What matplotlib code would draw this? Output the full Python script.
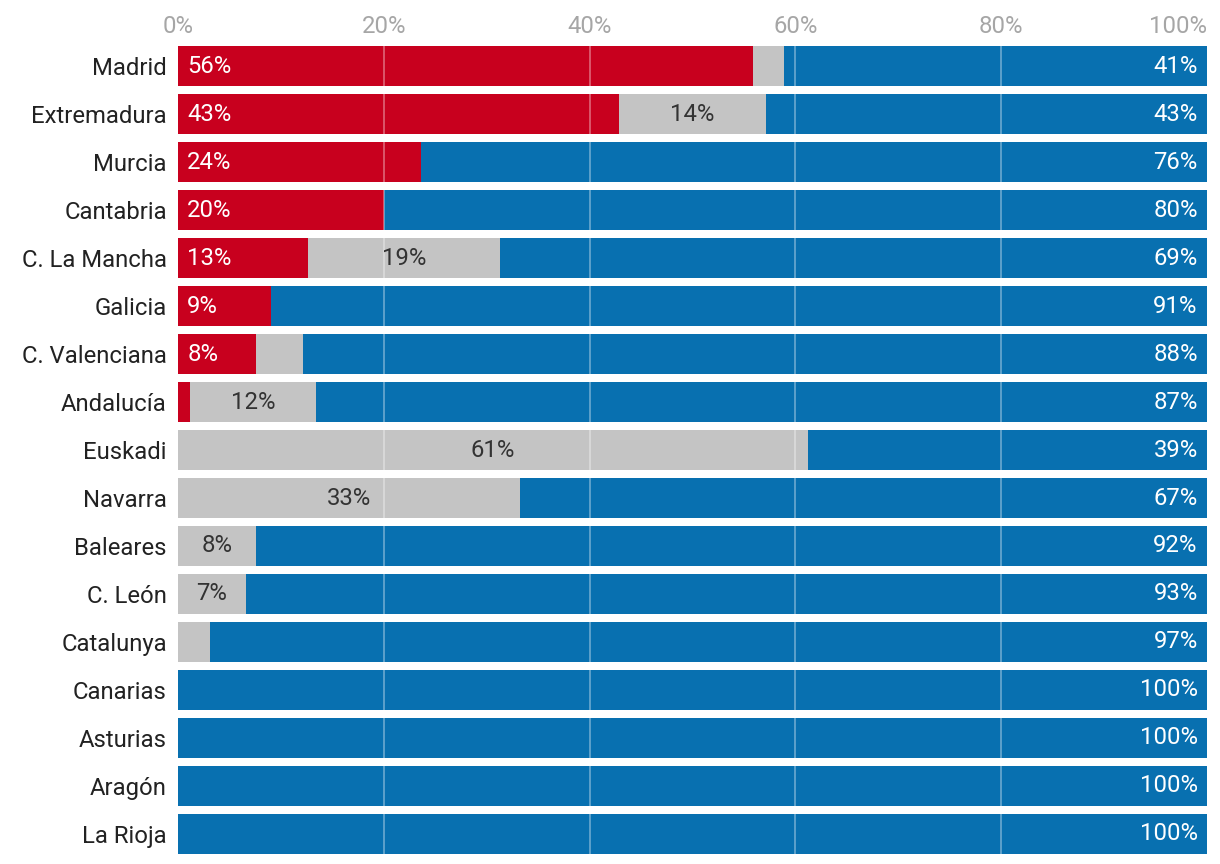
import numpy as np
import matplotlib.pyplot as plt

plt.rcParams['font.family'] = ['Roboto', 'DejaVu Sans']

regions = ["Madrid", "Extremadura", "Murcia", "Cantabria", "C. La Mancha", "Galicia",
           "C. Valenciana", "Andalucía", "Euskadi", "Navarra", "Baleares", "C. León",
           "Catalunya", "Canarias", "Asturias", "Aragón", "La Rioja"]
red = [55.9, 42.9, 23.6, 20.0, 12.6, 9.0, 7.6, 1.2, 0, 0, 0, 0, 0, 0, 0, 0, 0]
gray = [3.0, 14.2, 0, 0, 18.7, 0, 4.5, 12.2, 61.2, 33.2, 7.6, 6.6, 3.1, 0, 0, 0, 0]
blue = [41.1, 42.9, 76.4, 80.0, 68.7, 91.0, 87.9, 86.6, 38.8, 66.8, 92.4, 93.4, 96.9,
        100, 100, 100, 100]

c_red = "#c8001e"
c_gray = "#c4c4c4"
c_blue = "#0870b0"

fig = plt.figure(figsize=(12.2, 8.64), dpi=100)
ax = fig.add_axes([178 / 1220, 1 - 854 / 864, 1029 / 1220, 808 / 864])

y = np.arange(len(regions))
h = 40 / 48
red = np.array(red)
gray = np.array(gray)
blue = np.array(blue)

ax.barh(y, red, height=h, color=c_red, zorder=1)
ax.barh(y, gray, left=red, height=h, color=c_gray, zorder=1)
ax.barh(y, blue, left=red + gray, height=h, color=c_blue, zorder=1)

fs = 17.2
for i in range(len(regions)):
    if red[i] >= 5:
        ax.text(0.9, i, f"{round(red[i])}%", color="white", va="center", ha="left", fontsize=fs, zorder=3)
    if gray[i] >= 5:
        ax.text(red[i] + gray[i] / 2, i, f"{round(gray[i])}%", color="#333333", va="center",
                ha="center", fontsize=fs, zorder=3)
    if blue[i] >= 5:
        ax.text(99.1, i, f"{round(blue[i])}%", color="white", va="center", ha="right", fontsize=fs, zorder=3)

ax.set_xlim(0, 100)
ax.set_ylim(len(regions) - 1 + h / 2, -h / 2)
ax.set_xticks([0, 20, 40, 60, 80, 100])
ax.set_xticklabels(["0%", "20%", "40%", "60%", "80%", "100%"])
ax.xaxis.tick_top()
ax.tick_params(axis="x", length=0, pad=6, labelsize=fs, labelcolor="#a6a6a6")
ax.set_yticks(y)
ax.set_yticklabels(regions)
ax.tick_params(axis="y", length=0, pad=8, labelsize=fs, labelcolor="#222222")
ax.get_xticklabels()[-1].set_horizontalalignment("right")

for xv in [20, 40, 60, 80]:
    ax.axvline(xv, color="white", alpha=0.4, lw=1.2, zorder=2)

for s in ax.spines.values():
    s.set_visible(False)

fig.savefig("out.png", dpi=100)
